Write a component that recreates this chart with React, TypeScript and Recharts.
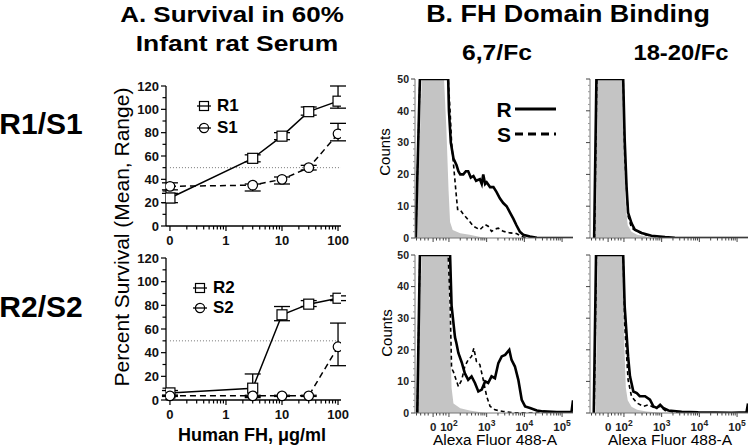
import React from 'react';
import { ComposedChart, LineChart, Line, Area, XAxis, YAxis, ErrorBar, ReferenceLine } from 'recharts';

const FONT = '"Liberation Sans", Arial, Helvetica, sans-serif';

// ---- A. survival in infant rat serum ----
const doses = [0, 3, 10, 30, 100];
const ZERO_DOSE_POS = 0.1; // where the "0" dose sits on the log axis
const doseTicks = [0.1, 1, 10, 100];
const doseTickLabels = ['0', '1', '10', '100'];
const doseMinorTicks = [0.2, 0.3, 0.4, 0.5, 0.6, 0.7, 0.8, 0.9, 2, 3, 4, 5, 6, 7, 8, 9, 20, 30, 40, 50, 60, 70, 80, 90];
const pctTicks = [0, 10, 20, 30, 40, 50, 60, 70, 80, 90, 100, 110, 120];

const r1Mean = [24, 58, 77, 98, 107];
const r1Low = [20, 55, 74, 95, 101];
const r1High = [28, 61, 80, 102, 120];
const s1Mean = [34, 35, 40, 50, 79];
const s1Low = [31, 30, 36, 48, 73];
const s1High = [37, 36, 42, 52, 88];

const r2Mean = [6, 10, 72, 81, 86];
const r2Low = [4, 2, 67, 79, 84];
const r2High = [8, 22, 79, 84, 88];
const s2Mean = [3.5, 3.5, 3.5, 3.5, 45];
const s2Low = [3, 3, 3, 3, 29];
const s2High = [4, 4, 4, 4, 65];

// ---- B. FH domain binding histograms: [display position, counts] ----
const histMajorTicks = [1.58, 2, 3, 4, 5];
const histTickBase = ['0', '10', '10', '10', '10'];
const histTickExp = ['', '2', '3', '4', '5'];
const histMinorTicks = [1.14, 1.25, 1.36, 1.45, 1.67, 1.76, 1.85, 1.92,
  2.3, 2.48, 2.6, 2.7, 2.78, 2.85, 2.9, 2.95,
  3.3, 3.48, 3.6, 3.7, 3.78, 3.85, 3.9, 3.95,
  4.3, 4.48, 4.6, 4.7, 4.78, 4.85, 4.9, 4.95];
const countTicks = [0, 10, 20, 30, 40, 50];
const countMinorTicks = [2, 4, 6, 8, 12, 14, 16, 18, 22, 24, 26, 28, 32, 34, 36, 38, 42, 44, 46, 48];

const ctrl67Top = [[1.14, 0], [1.28, 50], [1.87, 50], [1.93, 35], [1.99, 15], [2.03, 5], [2.1, 2.5], [2.3, 1.5], [2.55, 1], [2.8, 0.4], [3.0, 0]];
const r67Top = [[1.12, 0], [1.23, 50], [1.98, 50], [2.0, 40], [2.05, 30], [2.12, 25], [2.2, 23], [2.25, 21], [2.3, 20], [2.38, 20], [2.45, 21], [2.51, 21], [2.58, 19], [2.65, 19.5], [2.72, 18], [2.82, 18.5], [2.87, 17], [2.91, 20], [2.96, 17], [3.0, 17.5], [3.09, 16], [3.18, 16], [3.26, 14.5], [3.35, 12.5], [3.44, 11], [3.53, 10], [3.62, 8], [3.71, 6], [3.79, 4], [3.88, 2], [3.97, 1], [4.15, 0.5], [4.33, 0.1], [5.29, 0]];
const s67Top = [[1.12, 0], [1.23, 50], [1.98, 50], [2.03, 40], [2.07, 30], [2.13, 22], [2.19, 14], [2.23, 9], [2.29, 9], [2.38, 7.5], [2.47, 6.3], [2.56, 5], [2.65, 3.7], [2.82, 2.6], [2.96, 4.2], [3.04, 3.7], [3.13, 2.1], [3.22, 2.8], [3.31, 3.1], [3.44, 2.1], [3.62, 1.6], [3.79, 1.4], [3.93, 0.5], [4.06, 0], [5.29, 0]];

const ctrl1820Top = [[1.25, 0], [1.3, 50], [1.96, 50], [2.0, 30], [2.05, 10], [2.1, 4], [2.2, 2], [2.35, 1], [2.6, 0.5], [2.9, 0]];
const r1820Top = [[1.21, 0], [1.27, 50], [1.98, 50], [2.02, 31], [2.07, 16], [2.11, 8], [2.2, 4.7], [2.29, 2.6], [2.47, 1.6], [2.73, 0.7], [3.09, 0.3], [3.35, 0.1], [3.6, 0], [5.29, 0]];
const s1820Top = [[1.22, 0], [1.28, 50], [1.98, 50], [2.02, 26], [2.11, 6.9], [2.2, 3.2], [2.34, 2.1], [2.56, 1], [2.91, 0.3], [3.2, 0], [5.29, 0]];

const ctrl67Bottom = [[1.14, 0], [1.28, 50], [1.98, 50], [2.02, 30], [2.07, 8], [2.12, 3], [2.3, 1.5], [2.55, 0.8], [2.8, 0.3], [3.0, 0]];
const r67Bottom = [[1.16, 0], [1.23, 50], [2.03, 50], [2.07, 34], [2.16, 24], [2.2, 22], [2.25, 19], [2.34, 16], [2.42, 12.6], [2.51, 10.5], [2.6, 11.6], [2.69, 9.5], [2.78, 6.8], [2.87, 7.4], [2.96, 10], [3.04, 9.5], [3.13, 11.6], [3.22, 11], [3.31, 15.8], [3.4, 17.9], [3.49, 18.4], [3.6, 20], [3.66, 16.8], [3.75, 14.7], [3.84, 10.5], [3.93, 4.2], [4.02, 2.1], [4.15, 1.6], [4.33, 0.8], [4.5, 0.5], [4.86, 0.3], [5.25, 0.3], [5.29, 4]];
const s67Bottom = [[1.16, 0], [1.23, 50], [1.98, 50], [2.03, 35], [2.07, 14.2], [2.12, 13], [2.19, 10.5], [2.25, 8.4], [2.34, 10.5], [2.42, 14.7], [2.51, 16.8], [2.6, 17.9], [2.66, 20.5], [2.73, 16.3], [2.82, 15.3], [2.91, 10.5], [3.0, 5.3], [3.09, 2.1], [3.22, 1], [3.44, 0.5], [3.71, 0.1], [4.0, 0], [5.29, 0]];

const ctrl1820Bottom = [[1.25, 0], [1.3, 50], [1.96, 50], [2.0, 25], [2.05, 8], [2.1, 4], [2.2, 2], [2.35, 1], [2.6, 0.5], [2.85, 0.2], [3.0, 0]];
const r1820Bottom = [[1.2, 0], [1.26, 50], [1.98, 50], [2.02, 33.7], [2.11, 17.9], [2.16, 11.6], [2.25, 6.8], [2.34, 6.3], [2.42, 5.3], [2.56, 5.3], [2.69, 4.2], [2.78, 2.1], [2.87, 1.6], [2.96, 2.6], [3.04, 1.6], [3.18, 0.8], [3.53, 0.4], [3.97, 0.2], [4.86, 0.1], [5.25, 0.2], [5.29, 3]];
const s1820Bottom = [[1.21, 0], [1.27, 50], [1.98, 50], [2.02, 28], [2.11, 10.5], [2.2, 5.3], [2.34, 3.2], [2.51, 2.1], [2.65, 2.6], [2.82, 1.6], [2.96, 2.1], [3.09, 0.8], [3.35, 0.2], [3.62, 0], [5.29, 0]];

const toRows = (pts: number[][]) => pts.map(([x, y]) => ({ x, y }));

function buildSurvival(rM: number[], rL: number[], rH: number[], sM: number[], sL: number[], sH: number[]) {
  return doses.map((d, i) => ({
    dose: d === 0 ? ZERO_DOSE_POS : d,
    r: rM[i],
    rErr: [rM[i] - rL[i], rH[i] - rM[i]],
    s: sM[i],
    sErr: [sM[i] - sL[i], sH[i] - sM[i]],
  }));
}

const survivalTop = buildSurvival(r1Mean, r1Low, r1High, s1Mean, s1Low, s1High);
const survivalBottom = buildSurvival(r2Mean, r2Low, r2High, s2Mean, s2Low, s2High);

function DoseTick(props: any) {
  const { x, y, payload } = props;
  const i = doseTicks.indexOf(payload.value);
  const major = i >= 0;
  return (
    <g>
      <line x1={x} x2={x} y1={y} y2={y + (major ? 5 : 3.5)} stroke="#000" strokeWidth={1.2} />
      {major && (
        <text x={x} y={y + 19} textAnchor="middle" fontSize={13} fontWeight="bold" fontFamily={FONT} fill="#111">
          {doseTickLabels[i]}
        </text>
      )}
    </g>
  );
}

function PctTick(props: any) {
  const { x, y, payload } = props;
  const major = payload.value % 20 === 0;
  return (
    <g>
      <line x1={x} x2={x - (major ? 5 : 3.5)} y1={y} y2={y} stroke="#000" strokeWidth={1.2} />
      {major && (
        <text x={x - 7} y={y + 4.5} textAnchor="end" fontSize={13} fontWeight="bold" fontFamily={FONT} fill="#111">
          {payload.value}
        </text>
      )}
    </g>
  );
}

const squareDot = (p: any) => (
  <rect key={`sq${p.index}`} x={p.cx - 5} y={p.cy - 5} width={10} height={10} fill="#fff" stroke="#000" strokeWidth={1.2} />
);
const circleDot = (p: any) => (
  <circle key={`ci${p.index}`} cx={p.cx} cy={p.cy} r={4.8} fill="#fff" stroke="#000" strokeWidth={1.2} />
);

// plot area of each survival panel: x 166..341
function SurvivalPanel({ rows, plotTop, plotH, rName, sName }: any) {
  return (
    <div style={{ position: 'absolute', left: 116, top: plotTop - 12 }}>
      <LineChart width={245} height={12 + plotH + 24} data={rows} margin={{ top: 12, right: 20, left: 10, bottom: 0 }}>
        <XAxis
          dataKey="dose"
          type="number"
          scale="log"
          domain={[0.085, 113]}
          allowDataOverflow
          ticks={[...doseTicks, ...doseMinorTicks]}
          interval={0}
          tick={<DoseTick />}
          tickLine={false}
          tickSize={0}
          tickMargin={0}
          height={24}
          axisLine={{ stroke: '#000', strokeWidth: 1.3 }}
        />
        <YAxis
          type="number"
          domain={[0, 120]}
          ticks={pctTicks}
          interval={0}
          tick={<PctTick />}
          tickLine={false}
          tickSize={0}
          tickMargin={0}
          width={40}
          axisLine={{ stroke: '#000', strokeWidth: 1.3 }}
        />
        <ReferenceLine
          segment={[{ x: ZERO_DOSE_POS, y: 50 }, { x: 113, y: 50 }]}
          stroke="#777"
          strokeWidth={1}
          strokeDasharray="1 2"
        />
        <Line name={rName} dataKey="r" stroke="#000" strokeWidth={1.5} dot={squareDot} isAnimationActive={false}>
          <ErrorBar dataKey="rErr" width={8} stroke="#000" strokeWidth={1.3} direction="y" />
        </Line>
        <Line name={sName} dataKey="s" stroke="#000" strokeWidth={1.5} strokeDasharray="6 4" dot={circleDot} isAnimationActive={false}>
          <ErrorBar dataKey="sErr" width={8} stroke="#000" strokeWidth={1.3} direction="y" />
        </Line>
      </LineChart>
    </div>
  );
}

function HistXTick(props: any) {
  const { x, y, payload, showLabel } = props;
  const i = histMajorTicks.indexOf(payload.value);
  const major = i >= 0;
  return (
    <g>
      <line x1={x} x2={x} y1={y} y2={y + (major ? 4 : 2.5)} stroke="#444" strokeWidth={1} />
      {major && showLabel && (
        <text x={x} y={y + 17.5} textAnchor="middle" fontSize={11.5} fontWeight="bold" fontFamily={FONT} fill="#222">
          {histTickBase[i]}
          {histTickExp[i] && (
            <tspan dy={-5} fontSize={8.5}>{histTickExp[i]}</tspan>
          )}
        </text>
      )}
    </g>
  );
}

function HistYTick(props: any) {
  const { x, y, payload, showLabel } = props;
  const major = countTicks.includes(payload.value);
  return (
    <g>
      <line x1={x} x2={x - (major ? 4 : 2)} y1={y} y2={y} stroke={major ? '#444' : '#999'} strokeWidth={1} />
      {major && showLabel && (
        <text x={x - 6} y={y + 3.8} textAnchor="end" fontSize={10.5} fontWeight="bold" fontFamily={FONT} fill="#222">
          {payload.value}
        </text>
      )}
    </g>
  );
}

function HistPanel({ left, top, plotH, ctrl, r, s, showYLabels, showXLabels }: any) {
  return (
    <div style={{ position: 'absolute', left, top }}>
      <ComposedChart width={193} height={5 + plotH + 26} margin={{ top: 5, right: 5, left: 0, bottom: 0 }}>
        <XAxis
          dataKey="x"
          type="number"
          domain={[1.1, 5.29]}
          allowDataOverflow
          ticks={[...histMajorTicks, ...histMinorTicks]}
          interval={0}
          tick={<HistXTick showLabel={showXLabels} />}
          tickLine={false}
          tickSize={0}
          tickMargin={0}
          height={26}
          axisLine={{ stroke: '#777', strokeWidth: 1 }}
        />
        <XAxis xAxisId="frame" orientation="top" type="number" domain={[1.1, 5.29]} height={0} tick={false} tickLine={false} axisLine={{ stroke: '#999', strokeWidth: 1 }} />
        <YAxis
          type="number"
          domain={[0, 50]}
          allowDataOverflow
          ticks={[...countTicks, ...countMinorTicks]}
          interval={0}
          tick={<HistYTick showLabel={showYLabels} />}
          tickLine={false}
          tickSize={0}
          tickMargin={0}
          width={30}
          axisLine={{ stroke: '#777', strokeWidth: 1 }}
        />
        <YAxis yAxisId="frame" orientation="right" type="number" domain={[0, 50]} width={0} tick={false} tickLine={false} axisLine={{ stroke: '#999', strokeWidth: 1 }} />
        <Area data={toRows(ctrl)} dataKey="y" type="linear" fill="#c4c4c4" fillOpacity={1} stroke="none" isAnimationActive={false} />
        <Line data={toRows(s)} dataKey="y" type="linear" stroke="#000" strokeWidth={1.6} strokeDasharray="4 3" dot={false} isAnimationActive={false} />
        <Line data={toRows(r)} dataKey="y" type="linear" stroke="#000" strokeWidth={2.6} dot={false} isAnimationActive={false} />
      </ComposedChart>
    </div>
  );
}

function Txt({ x, y, children, size, bold, sx = 1, rotate = 0, color = '#000' }: any) {
  return (
    <div
      style={{
        position: 'absolute',
        left: x,
        top: y,
        transform: `translate(-50%, -50%) rotate(${rotate}deg) scaleX(${sx})`,
        fontSize: size,
        fontWeight: bold ? 'bold' : 'normal',
        fontFamily: FONT,
        lineHeight: 1,
        whiteSpace: 'nowrap',
        color,
      }}
    >
      {children}
    </div>
  );
}

function LegendItem({ x, y, label, shape }: any) {
  return (
    <div style={{ position: 'absolute', left: x - 8, top: y - 8, display: 'flex', alignItems: 'center' }}>
      <svg width={16} height={16}>
        <line x1={1} x2={15} y1={8} y2={8} stroke="#000" strokeWidth={1.3} />
        {shape === 'square' ? (
          <rect x={3.5} y={3.5} width={9} height={9} fill="none" stroke="#000" strokeWidth={1.2} />
        ) : (
          <circle cx={8} cy={8} r={4.6} fill="none" stroke="#000" strokeWidth={1.2} />
        )}
      </svg>
      <span style={{ marginLeft: 5, fontSize: 17, fontWeight: 'bold', fontFamily: FONT, lineHeight: 1 }}>{label}</span>
    </div>
  );
}

function HistLegend() {
  return (
    <>
      <Txt x={504} y={109} size={21} bold>R</Txt>
      <svg style={{ position: 'absolute', left: 514, top: 104 }} width={44} height={40}>
        <line x1={1} x2={42} y1={5} y2={5} stroke="#000" strokeWidth={3} />
        <line x1={1} x2={42} y1={30} y2={30} stroke="#000" strokeWidth={3} strokeDasharray="8 5" />
      </svg>
      <Txt x={504} y={134} size={21} bold>S</Txt>
    </>
  );
}

export default function App() {
  return (
    <div style={{ position: 'absolute', left: 0, top: 0, width: 750, height: 448, background: '#fff', overflow: 'hidden' }}>
      <Txt x={232} y={15} size={22} bold sx={1.18}>A. Survival in 60%</Txt>
      <Txt x={237} y={44} size={22} bold sx={1.2}>Infant rat Serum</Txt>
      <Txt x={568} y={14} size={24} bold sx={1.12}>B. FH Domain Binding</Txt>
      <Txt x={497} y={53} size={22} bold sx={1.12}>6,7/Fc</Txt>
      <Txt x={681} y={53} size={22} bold sx={1.08}>18-20/Fc</Txt>

      <Txt x={41} y={124} size={30} bold>R1/S1</Txt>
      <Txt x={41} y={307} size={30} bold>R2/S2</Txt>
      <Txt x={121} y={237} size={21} rotate={-90}>Percent Survival (Mean, Range)</Txt>
      <Txt x={252} y={435} size={18} bold>Human FH, μg/ml</Txt>

      <SurvivalPanel rows={survivalTop} plotTop={86} plotH={140} rName="R1" sName="S1" />
      <SurvivalPanel rows={survivalBottom} plotTop={258} plotH={142} rName="R2" sName="S2" />
      <LegendItem x={204} y={105} label="R1" shape="square" />
      <LegendItem x={204} y={127} label="S1" shape="circle" />
      <LegendItem x={200} y={287} label="R2" shape="square" />
      <LegendItem x={200} y={307} label="S2" shape="circle" />

      <HistPanel left={385} top={74} plotH={159} ctrl={ctrl67Top} r={r67Top} s={s67Top} showYLabels showXLabels={false} />
      <HistPanel left={560} top={74} plotH={159} ctrl={ctrl1820Top} r={r1820Top} s={s1820Top} showYLabels={false} showXLabels={false} />
      <HistPanel left={385} top={250} plotH={158} ctrl={ctrl67Bottom} r={r67Bottom} s={s67Bottom} showYLabels showXLabels />
      <HistPanel left={560} top={250} plotH={158} ctrl={ctrl1820Bottom} r={r1820Bottom} s={s1820Bottom} showYLabels={false} showXLabels />
      <HistLegend />

      <Txt x={384} y={152} size={15} rotate={-90}>Counts</Txt>
      <Txt x={386} y={333} size={15} rotate={-90}>Counts</Txt>
      <Txt x={495} y={440} size={15.5}>Alexa Fluor 488-A</Txt>
      <Txt x={670} y={440} size={15.5}>Alexa Fluor 488-A</Txt>
    </div>
  );
}
